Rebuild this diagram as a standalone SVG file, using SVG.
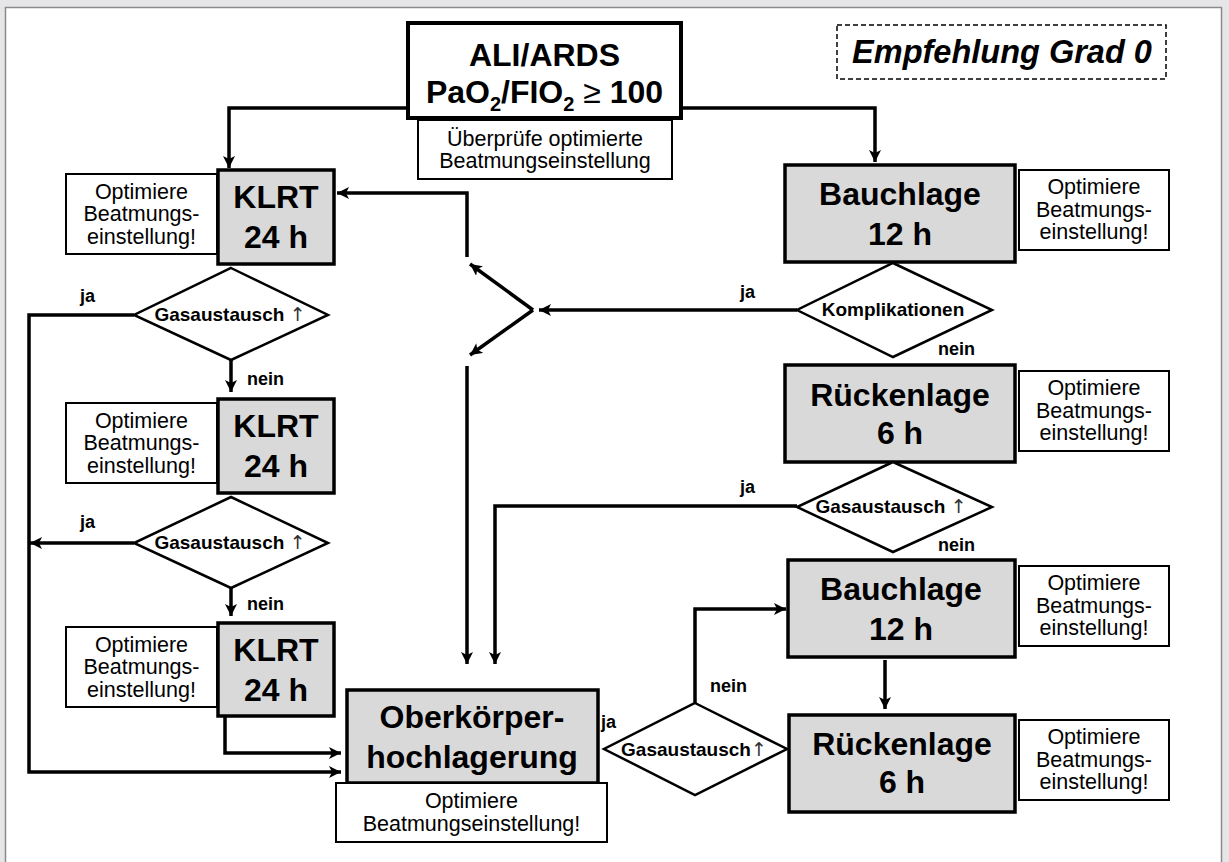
<svg xmlns="http://www.w3.org/2000/svg" width="1229" height="862" viewBox="0 0 1229 862">
<style>
.bg{fill:#e6e6e8}
.panel{fill:#ffffff;stroke:#8a8a8a;stroke-width:1.5}
.main{fill:#d9d9d9;stroke:#000;stroke-width:3.5}
.note{fill:#fff;stroke:#000;stroke-width:2}
.dia{fill:#fff;stroke:#000;stroke-width:2.5}
.big{font-family:"Liberation Sans",Arial,sans-serif;font-weight:bold;font-size:32px;fill:#000;text-anchor:middle}
.nt{font-family:"Liberation Sans",Arial,sans-serif;font-size:21.5px;fill:#000;text-anchor:middle}
.dt{font-family:"Liberation Sans",Arial,sans-serif;font-weight:bold;font-size:19px;fill:#000;text-anchor:middle}
.up{font-family:"DejaVu Sans",sans-serif;font-weight:normal;fill:#333}
.lb{font-family:"Liberation Sans",Arial,sans-serif;font-weight:bold;font-size:18px;fill:#000}
.arr{fill:#000}
.ln{fill:none;stroke:#000;stroke-width:3.5}
</style>
<defs>
<marker id="ah" viewBox="0 0 10 10" refX="10" refY="5" markerWidth="12" markerHeight="12" markerUnits="userSpaceOnUse" orient="auto">
<path d="M0,0 L10,5 L0,10 L2.5,5 z" class="arr"/>
</marker>
</defs>
<rect class="bg" x="0" y="0" width="1229" height="862"/>
<rect class="panel" x="5.5" y="7.5" width="1216" height="860"/>

<g id="legend">
<rect x="837" y="25" width="329" height="54" fill="none" stroke="#000" stroke-width="1.5" stroke-dasharray="5,3"/>
<text x="1002" y="63" font-family="Liberation Sans,Arial,sans-serif" font-weight="bold" font-style="italic" font-size="32.5" text-anchor="middle">Empfehlung Grad 0</text>
</g>

<g id="start">
<rect x="408" y="23" width="273" height="95" fill="#fff" stroke="#000" stroke-width="4"/>
<text class="big" x="544.5" y="66" font-size="31">ALI/ARDS</text>
<text class="big" x="544.5" y="103" font-size="31">PaO<tspan font-size="20" dy="8">2</tspan><tspan dy="-8">/FIO</tspan><tspan font-size="20" dy="8">2</tspan><tspan dy="-8" font-weight="normal"> ≥ </tspan>100</text>
</g>
<g id="check">
<rect class="note" x="418" y="120" width="254" height="59"/>
<text class="nt" x="545" y="145.5">Überprüfe optimierte</text>
<text class="nt" x="545" y="168">Beatmungseinstellung</text>
</g>

<g id="klrt1">
<rect class="note" x="66" y="174" width="151" height="80"/>
<text class="nt" x="141.5" y="198.5">Optimiere</text>
<text class="nt" x="141.5" y="221">Beatmungs-</text>
<text class="nt" x="141.5" y="243.5">einstellung!</text>
<rect class="main" x="218" y="170" width="116" height="94"/>
<text class="big" x="276" y="208">KLRT</text>
<text class="big" x="276" y="248">24 h</text>
</g>
<g id="dec1">
<polygon class="dia" points="231,268 328,315 231,360 134,315"/>
<text class="dt" x="230" y="321">Gasaustausch <tspan class="up">↑</tspan></text>
</g>
<g id="klrt2">
<rect class="note" x="66" y="403" width="151" height="80"/>
<text class="nt" x="141.5" y="427.5">Optimiere</text>
<text class="nt" x="141.5" y="450">Beatmungs-</text>
<text class="nt" x="141.5" y="472.5">einstellung!</text>
<rect class="main" x="218" y="399" width="116" height="94"/>
<text class="big" x="276" y="437">KLRT</text>
<text class="big" x="276" y="477">24 h</text>
</g>
<g id="dec2">
<polygon class="dia" points="231,497 328,543 231,588 134,543"/>
<text class="dt" x="230" y="549">Gasaustausch <tspan class="up">↑</tspan></text>
</g>
<g id="klrt3">
<rect class="note" x="66" y="627" width="151" height="80"/>
<text class="nt" x="141.5" y="651.5">Optimiere</text>
<text class="nt" x="141.5" y="674">Beatmungs-</text>
<text class="nt" x="141.5" y="696.5">einstellung!</text>
<rect class="main" x="218" y="623" width="116" height="93"/>
<text class="big" x="276" y="661">KLRT</text>
<text class="big" x="276" y="701">24 h</text>
</g>

<g id="ober">
<rect class="main" x="347" y="690" width="251" height="93"/>
<text class="big" x="472" y="728">Oberkörper-</text>
<text class="big" x="472" y="768">hochlagerung</text>
<rect class="note" x="336" y="783" width="271" height="59"/>
<text class="nt" x="471.5" y="808">Optimiere</text>
<text class="nt" x="471.5" y="831">Beatmungseinstellung!</text>
</g>

<g id="bauch1">
<rect class="main" x="785" y="165" width="230" height="97"/>
<text class="big" x="900" y="205">Bauchlage</text>
<text class="big" x="900" y="245">12 h</text>
<rect class="note" x="1019" y="170" width="150" height="80"/>
<text class="nt" x="1094" y="194">Optimiere</text>
<text class="nt" x="1094" y="216.5">Beatmungs-</text>
<text class="nt" x="1094" y="239">einstellung!</text>
</g>
<g id="kompl">
<polygon class="dia" points="893,263 992,310 893,357 797,310"/>
<text class="dt" x="893" y="316" font-size="19.5">Komplikationen</text>
</g>
<g id="ruecken1">
<rect class="main" x="785" y="365" width="230" height="97"/>
<text class="big" x="900" y="406">Rückenlage</text>
<text class="big" x="900" y="444">6 h</text>
<rect class="note" x="1019" y="371" width="150" height="80"/>
<text class="nt" x="1094" y="395">Optimiere</text>
<text class="nt" x="1094" y="417.5">Beatmungs-</text>
<text class="nt" x="1094" y="440">einstellung!</text>
</g>
<g id="dec3">
<polygon class="dia" points="893,462 992,507 893,552 797,507"/>
<text class="dt" x="891" y="513">Gasaustausch <tspan class="up">↑</tspan></text>
</g>
<g id="bauch2">
<rect class="main" x="788" y="560" width="227" height="97"/>
<text class="big" x="901" y="600">Bauchlage</text>
<text class="big" x="901" y="640">12 h</text>
<rect class="note" x="1019" y="566" width="150" height="80"/>
<text class="nt" x="1094" y="590">Optimiere</text>
<text class="nt" x="1094" y="612.5">Beatmungs-</text>
<text class="nt" x="1094" y="635">einstellung!</text>
</g>
<g id="ruecken2">
<rect class="main" x="789" y="715" width="226" height="97"/>
<text class="big" x="902" y="755">Rückenlage</text>
<text class="big" x="902" y="793">6 h</text>
<rect class="note" x="1019" y="720" width="150" height="80"/>
<text class="nt" x="1094" y="744">Optimiere</text>
<text class="nt" x="1094" y="766.5">Beatmungs-</text>
<text class="nt" x="1094" y="789">einstellung!</text>
</g>
<g id="dec4">
<polygon class="dia" points="695,703 787,749 695,795 604,749"/>
<text class="dt" x="694" y="756">Gasaustausch<tspan class="up">↑</tspan></text>
</g>

<g id="connectors">
<path class="ln" d="M408,108 H229 V168" marker-end="url(#ah)"/>
<path class="ln" d="M681,108 H875 V162" marker-end="url(#ah)"/>
<path class="ln" d="M797,310 H539" marker-end="url(#ah)"/>
<path class="ln" d="M533,310 L470,264" marker-end="url(#ah)"/>
<path class="ln" d="M533,310 L470,355" marker-end="url(#ah)"/>
<path class="ln" d="M467,257 V193 H337" marker-end="url(#ah)"/>
<path class="ln" d="M467,366 V664" marker-end="url(#ah)"/>
<path class="ln" d="M797,506 H495 V664" marker-end="url(#ah)"/>
<path class="ln" d="M134,315 H29 V772 H341" marker-end="url(#ah)"/>
<path class="ln" d="M231,360 V392" marker-end="url(#ah)"/>
<path class="ln" d="M134,543 H30" marker-end="url(#ah)"/>
<path class="ln" d="M231,588 V616" marker-end="url(#ah)"/>
<path class="ln" d="M225,716 V753 H341" marker-end="url(#ah)"/>
<path class="ln" d="M695,703 V609 H786" marker-end="url(#ah)"/>
<path class="ln" d="M885,660 V709" marker-end="url(#ah)"/>
<text class="lb" x="80" y="302">ja</text>
<text class="lb" x="247" y="385">nein</text>
<text class="lb" x="80" y="528">ja</text>
<text class="lb" x="247" y="610">nein</text>
<text class="lb" x="740" y="298">ja</text>
<text class="lb" x="938" y="355">nein</text>
<text class="lb" x="740" y="493">ja</text>
<text class="lb" x="938" y="551">nein</text>
<text class="lb" x="710" y="692">nein</text>
<text class="lb" x="601" y="728">ja</text>
</g>
</svg>
